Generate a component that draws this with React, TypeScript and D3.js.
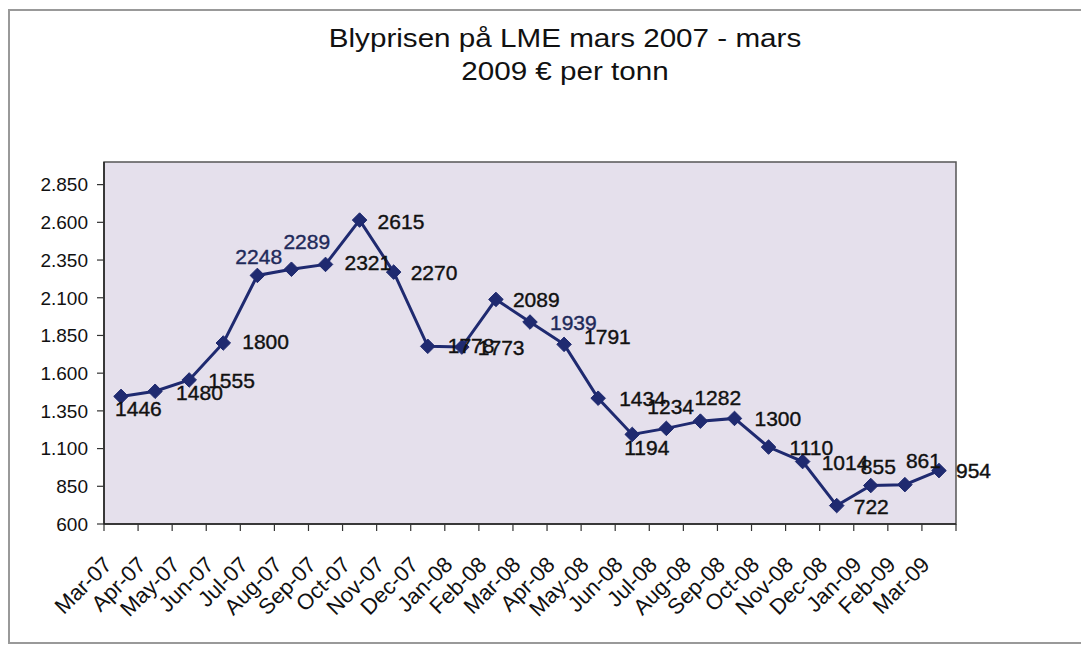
import React from "react";
import * as d3 from "d3";

const months = [
  "Mar-07", "Apr-07", "May-07", "Jun-07", "Jul-07", "Aug-07", "Sep-07", "Oct-07", "Nov-07", "Dec-07",
  "Jan-08", "Feb-08", "Mar-08", "Apr-08", "May-08", "Jun-08", "Jul-08", "Aug-08", "Sep-08", "Oct-08",
  "Nov-08", "Dec-08", "Jan-09", "Feb-09", "Mar-09",
];
const prices = [
  1446, 1480, 1555, 1800, 2248, 2289, 2321, 2615, 2270, 1778,
  1773, 2089, 1939, 1791, 1434, 1194, 1234, 1282, 1300, 1110,
  1014, 722, 855, 861, 954,
];
const yTicks = [600, 850, 1100, 1350, 1600, 1850, 2100, 2350, 2600, 2850];
const titleLines = ["Blyprisen på LME mars 2007 - mars", "2009 € per tonn"];

// label placement (layout only): offset of label left edge / vertical centre from the point
const labelDx = [-6, 21, 19, 19, -22, -8, 19, 18, 17, 20, 16, 17, 20, 20, 21, -8, -19, -6, 20, 21, 19, 17, -10, 1, 17];
const labelDy = [12, 1, 0, -2, -19, -28, -2, 1, 0, -1, 0, 0, 0, -8, 0, 13, -22, -24, 0, 0, 1, 1, -19, -24, 0];
const navyLabels = [4, 5, 12];

const W = 1081;
const H = 647;
const plot = { left: 104, right: 956, top: 162, bottom: 524 };

const nf = d3.formatLocale({ decimal: ",", thousands: ".", grouping: [3], currency: ["", ""] }).format(",d");

export default function App() {
  const x = d3.scaleBand<string>().domain(months).range([plot.left, plot.right]).padding(0);
  const y = d3.scaleLinear().domain([600, 3000]).range([plot.bottom, plot.top]);
  const cx = (m: string) => (x(m) as number) + x.bandwidth() / 2;
  const pts = months.map((m, i) => [cx(m), y(prices[i])] as [number, number]);
  const line = d3.line<[number, number]>()(pts) as string;
  const diamond = d3.symbol().type(d3.symbolDiamond2).size(135)() as string;
  const lineColor = "#1f2a70";
  const font = "'Liberation Sans', Arial, sans-serif";
  const bounds = months.map((m) => x(m) as number).concat([plot.right]);

  return (
    <svg width={W} height={H} style={{ position: "absolute", left: 0, top: 0, background: "#fff" }} fontFamily={font}>
      <rect x={9} y={10} width={1080} height={633} fill="#fff" stroke="#999" strokeWidth={2} />
      {titleLines.map((t, i) => (
        <text key={i} transform={`translate(565,${47 + i * 33}) scale(1.14,1)`} fontSize={26}
          textAnchor="middle" fill="#111">{t}</text>
      ))}
      <rect x={plot.left} y={plot.top} width={plot.right - plot.left} height={plot.bottom - plot.top}
        fill="#e5e0ec" stroke="#555" strokeWidth={1.5} />
      {/* y axis */}
      <line x1={plot.left} x2={plot.left} y1={plot.top} y2={plot.bottom} stroke="#222" strokeWidth={1.5} />
      {yTicks.map((t) => (
        <g key={t}>
          <line x1={plot.left - 7} x2={plot.left} y1={y(t)} y2={y(t)} stroke="#333" strokeWidth={1.2} />
          <text x={88} y={y(t)} dy="0.36em" fontSize={19} textAnchor="end" fill="#111">{nf(t)}</text>
        </g>
      ))}
      {/* x axis */}
      <line x1={plot.left} x2={plot.right} y1={plot.bottom} y2={plot.bottom} stroke="#222" strokeWidth={1.5} />
      {bounds.map((b, i) => (
        <line key={i} x1={b} x2={b} y1={plot.bottom} y2={plot.bottom + 7} stroke="#333" strokeWidth={1.2} />
      ))}
      {months.map((m) => (
        <text key={m} transform={`translate(${cx(m) - 8},${plot.bottom + 42}) rotate(-45)`} fontSize={22}
          textAnchor="end" fill="#111">{m}</text>
      ))}
      {/* series */}
      <path d={line} fill="none" stroke={lineColor} strokeWidth={3} />
      {pts.map((p, i) => (
        <path key={i} d={diamond} transform={`translate(${p[0]},${p[1]})`} fill={lineColor} stroke={lineColor} strokeWidth={1} />
      ))}
      {pts.map((p, i) => {
        const c = navyLabels.includes(i) ? "#1f2a5a" : "#111";
        return (
          <text key={i} x={p[0] + labelDx[i]} y={p[1] + labelDy[i]} dy="0.36em" fontSize={21}
            fill={c} stroke={c} strokeWidth={0.4}>{prices[i]}</text>
        );
      })}
    </svg>
  );
}
